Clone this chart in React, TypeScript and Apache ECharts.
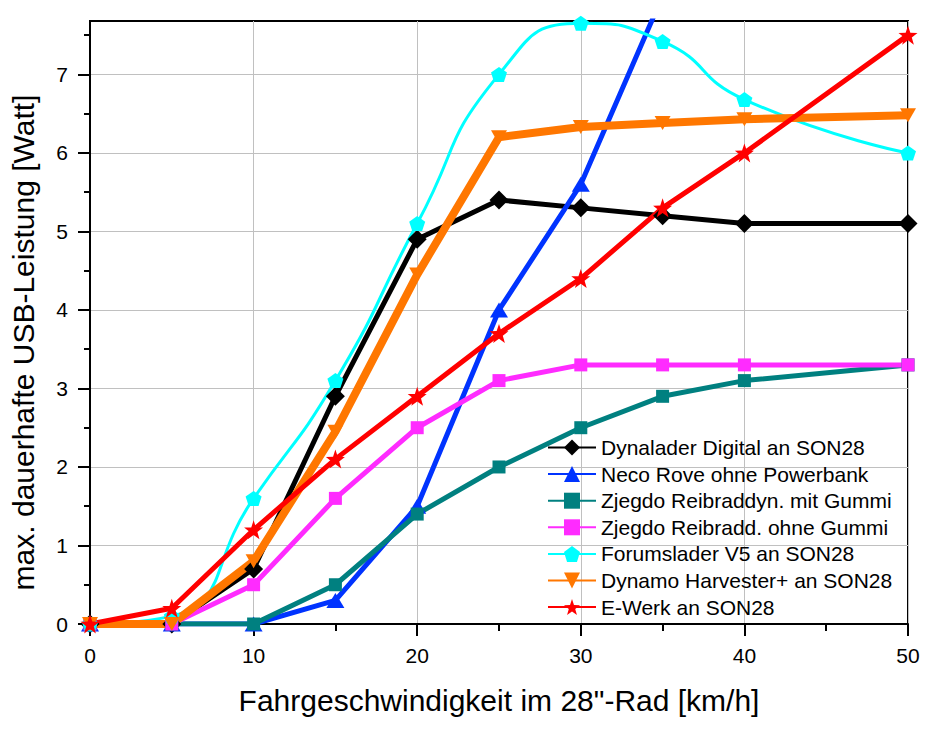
import React, { useEffect, useRef } from "react";
import * as echarts from "echarts";

const speeds = [0, 5, 10, 15, 20, 25, 30, 35, 40, 50];
const necoSpeeds = [0, 5, 10, 15, 20, 25, 30, 35];

const dynalader = [0, 0, 0.7, 2.9, 4.9, 5.4, 5.3, 5.2, 5.1, 5.1];
const neco = [0, 0, 0, 0.3, 1.5, 4.0, 5.6, 8.0];
const zjegdoMit = [0, 0, 0, 0.5, 1.4, 2.0, 2.5, 2.9, 3.1, 3.3];
const zjegdoOhne = [0, 0, 0.5, 1.6, 2.5, 3.1, 3.3, 3.3, 3.3, 3.3];
const forumslader = [0, 0.1, 1.6, 3.1, 5.1, 7.0, 7.65, 7.42, 6.68, 6.0];
const harvester = [0, 0, 0.8, 2.45, 4.45, 6.2, 6.33, 6.38, 6.43, 6.48];
const eWerk = [0, 0.2, 1.2, 2.1, 2.9, 3.7, 4.4, 5.3, 6.0, 7.5];

const seriesNames = [
  "Dynalader Digital an SON28",
  "Neco Rove ohne Powerbank",
  "Zjegdo Reibraddyn. mit Gummi",
  "Zjegdo Reibradd. ohne Gummi",
  "Forumslader V5 an SON28",
  "Dynamo Harvester+ an SON28",
  "E-Werk an SON28",
];

const xTicks = [0, 10, 20, 30, 40, 50];
const yTicks = [0, 1, 2, 3, 4, 5, 6, 7];
const yMinorTicks = [0.5, 1.5, 2.5, 3.5, 4.5, 5.5, 6.5, 7.5];

const FONT = "'Liberation Sans', Arial, sans-serif";

const PENTAGON =
  "path://M0,-10 L9.51,-3.09 L5.88,8.09 L-5.88,8.09 L-9.51,-3.09 Z";
const STAR =
  "path://M0,-10 L2.35,-3.24 L9.51,-3.09 L3.8,1.24 L5.88,8.09 L0,4 L-5.88,8.09 L-3.8,1.24 L-9.51,-3.09 L-2.35,-3.24 Z";
const TRI_DOWN = "path://M0,0 L20,0 L10,17 Z";

const pairs = (xs: number[], ys: number[]) => xs.map((x, i) => [x, ys[i]]);

export default function App() {
  const ref = useRef<HTMLDivElement>(null);

  useEffect(() => {
    if (!ref.current) return;
    const chart = echarts.init(ref.current, undefined, { renderer: "svg" });

    const mk = (
      name: string,
      data: number[][],
      color: string,
      symbol: string,
      symbolSize: any,
      width: number,
      smooth: any = false
    ) => ({
      name,
      type: "line",
      data,
      smooth,
      symbol,
      symbolSize,
      showAllSymbol: true,
      clip: true,
      lineStyle: { color, width },
      itemStyle: { color, borderWidth: 0 },
      emphasis: { disabled: true },
    });

    chart.setOption({
      animation: false,
      backgroundColor: "#ffffff",
      textStyle: { fontFamily: FONT },
      grid: {
        left: 90,
        right: 22,
        top: 21,
        bottom: 106,
        show: true,
        borderColor: "#000",
        borderWidth: 2,
        backgroundColor: "transparent",
        containLabel: false,
        outerBoundsMode: "none",
      },
      legend: {
        orient: "vertical",
        left: 547,
        top: 437,
        padding: 0,
        itemWidth: 48,
        itemHeight: 20,
        itemGap: 5.6,
        textStyle: {
          fontSize: 21,
          color: "#000",
          fontFamily: FONT,
          lineHeight: 20,
        },
        data: seriesNames,
      },
      xAxis: {
        type: "value",
        min: 0,
        max: 50,
        interval: 10,
        name: "Fahrgeschwindigkeit im 28\"-Rad [km/h]",
        nameLocation: "middle",
        nameGap: 61,
        nameTextStyle: { fontSize: 30, color: "#000", fontFamily: FONT },
        axisLine: { onZero: false, lineStyle: { color: "#000", width: 2 } },
        axisTick: { show: true, length: 12, lineStyle: { color: "#000", width: 2 } },
        minorTick: { show: true, splitNumber: 2, length: 7, lineStyle: { color: "#000", width: 2 } },
        splitLine: { show: true, lineStyle: { color: "#c0c0c0", width: 1 } },
        axisLabel: {
          fontSize: 21,
          color: "#000",
          margin: 21,
          fontFamily: FONT,
          customValues: xTicks,
        },
      },
      yAxis: [
        {
          type: "value",
          min: 0,
          max: 7.68,
          name: "max. dauerhafte USB-Leistung [Watt]",
          nameLocation: "middle",
          nameGap: 52,
          nameRotate: 90,
          nameTextStyle: {
            fontSize: 30,
            color: "#000",
            fontFamily: FONT,
            padding: [0, 40, 0, 0],
          },
          axisLine: { onZero: false, lineStyle: { color: "#000", width: 2 } },
          axisTick: {
            show: true,
            length: 12,
            lineStyle: { color: "#000", width: 2 },
            customValues: yTicks,
          },
          splitLine: { show: true, lineStyle: { color: "#c0c0c0", width: 1 } },
          axisLabel: {
            fontSize: 21,
            color: "#000",
            margin: 22,
            fontFamily: FONT,
            customValues: yTicks,
          },
        },
        {
          type: "value",
          min: 0,
          max: 7.68,
          position: "left",
          offset: 0,
          axisLine: { show: false },
          axisTick: {
            show: true,
            length: 6,
            lineStyle: { color: "#000", width: 2 },
            customValues: yMinorTicks,
          },
          splitLine: { show: false },
          axisLabel: { show: false },
        },
      ],
      series: [
        mk(seriesNames[0], pairs(speeds, dynalader), "#000000", "diamond", [19, 19], 5),
        mk(seriesNames[1], pairs(necoSpeeds, neco), "#0033ff", "triangle", [18, 15], 5),
        mk(seriesNames[2], pairs(speeds, zjegdoMit), "#008080", "rect", [13, 13], 5),
        mk(seriesNames[3], pairs(speeds, zjegdoOhne), "#ff2bff", "rect", [13, 13], 5),
        mk(seriesNames[4], pairs(speeds, forumslader), "#00ffff", PENTAGON, [16, 15], 3, 0.55),
        mk(seriesNames[5], pairs(speeds, harvester), "#ff7700", TRI_DOWN, [16, 14], 8),
        mk(seriesNames[6], pairs(speeds, eWerk), "#ff0000", STAR, [19, 19], 5),
      ],
    });

    return () => chart.dispose();
  }, []);

  return (
    <div
      ref={ref}
      style={{ position: "absolute", left: 0, top: 0, width: 930, height: 730 }}
    />
  );
}
